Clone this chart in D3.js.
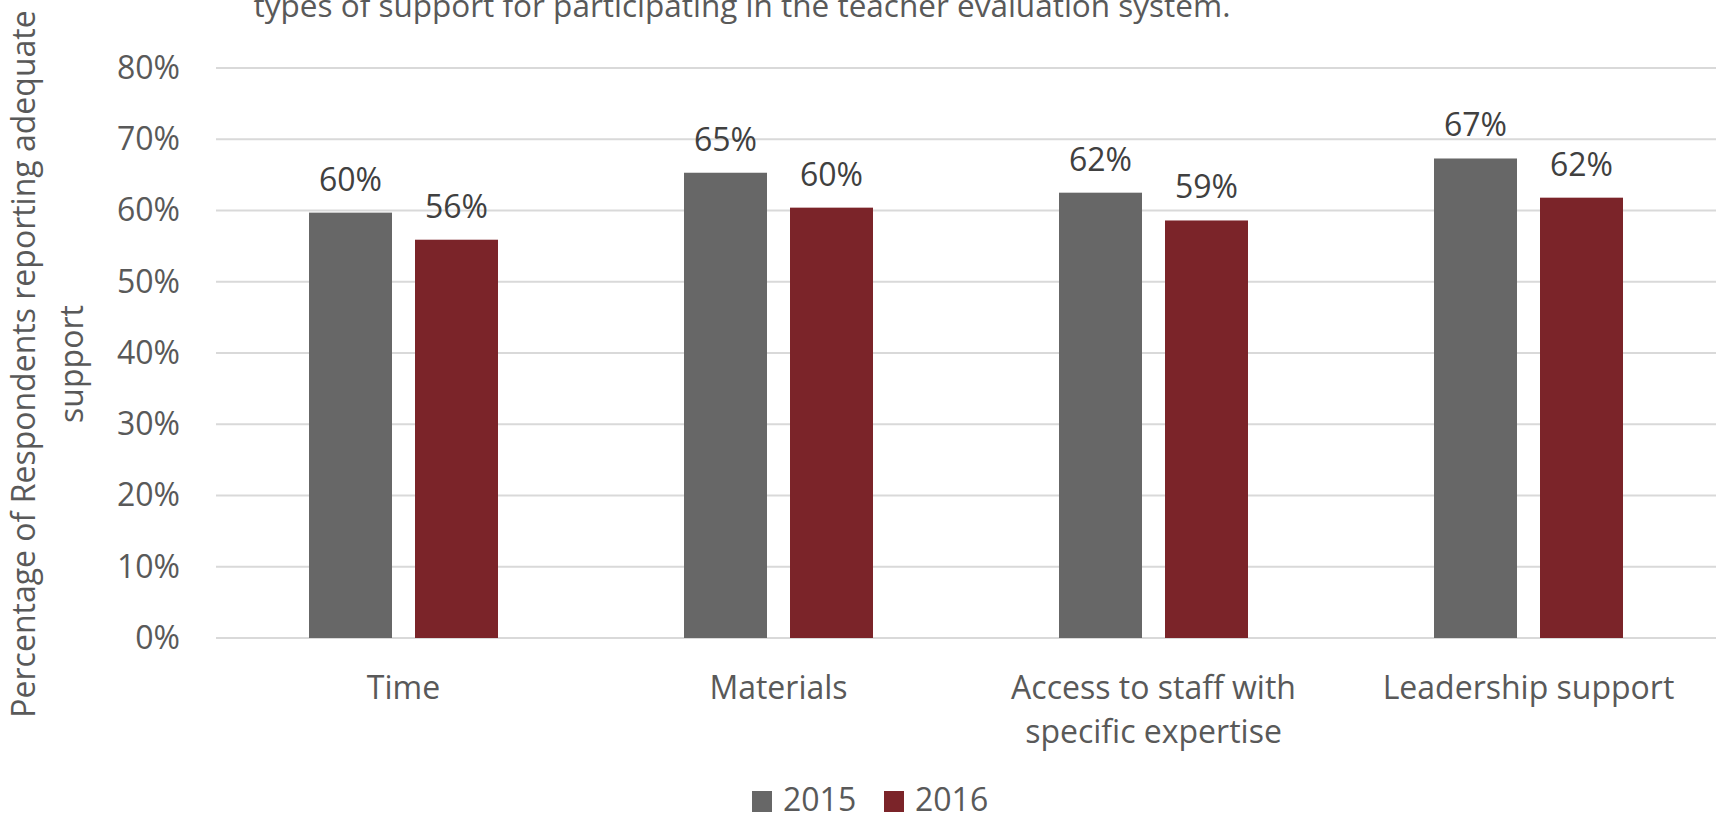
<!DOCTYPE html>
<html>
<head>
<meta charset="utf-8">
<script src="https://cdn.jsdelivr.net/npm/d3@7"></script>
<style>
  html, body { margin: 0; padding: 0; background: #fff; overflow: hidden; }
  svg { display: block; }
  svg text { font-family: "Open Sans", "Noto Sans", sans-serif; }
</style>
</head>
<body>
<svg id="chart" width="1719" height="815"></svg>
<script>
const categories = [["Time"], ["Materials"], ["Access to staff with", "specific expertise"], ["Leadership support"]];
const categoryKeys = ["Time", "Materials", "Access", "Leadership"];
const seriesNames = ["2015", "2016"];
const values2015 = [0.597, 0.653, 0.625, 0.673];
const values2016 = [0.559, 0.604, 0.586, 0.618];
const labels2015 = ["60%", "65%", "62%", "67%"];
const labels2016 = ["56%", "60%", "59%", "62%"];
const yTicks = [0, 0.1, 0.2, 0.3, 0.4, 0.5, 0.6, 0.7, 0.8];
const colors = ["#676767", "#7b2429"];
const titleText = "types of support for participating in the teacher evaluation system.";
const yTitleLines = ["Percentage of Respondents reporting adequate", "support"];

const svg = d3.select("#chart");
const m = {left: 216, right: 3, top: 68, bottom: 177};
const W = 1719, H = 815;
const FS = 32;

const x0 = d3.scaleBand().domain(categoryKeys).range([m.left, W - m.right]).paddingInner(0).paddingOuter(0);
const x1 = d3.scaleBand().domain(seriesNames).range([0, 189]).paddingInner(23/106).paddingOuter(0);
const y = d3.scaleLinear().domain([0, 0.8]).range([H - m.bottom, m.top]);

// gridlines
svg.append("g").selectAll("line").data(yTicks).join("line")
  .attr("x1", m.left).attr("x2", W - m.right)
  .attr("y1", d => y(d)).attr("y2", d => y(d))
  .attr("stroke", "#d9d9d9").attr("stroke-width", 2);

// y axis tick labels
const yAxis = d3.axisLeft(y).tickValues(yTicks).tickFormat(d3.format(".0%")).tickSize(0).tickPadding(0);
const ga = svg.append("g").attr("transform", `translate(${m.left - 36},0)`).call(yAxis);
ga.select(".domain").remove();
ga.selectAll("text").attr("font-size", FS).attr("fill", "#595959").attr("font-family", "Open Sans");

// bars
const groups = svg.append("g").selectAll("g").data(categoryKeys).join("g")
  .attr("transform", d => `translate(${x0(d) + (x0.bandwidth() - 189) / 2},0)`);
groups.each(function(k, i) {
  const g = d3.select(this);
  const vals = [values2015[i], values2016[i]];
  const labs = [labels2015[i], labels2016[i]];
  g.selectAll("rect").data(seriesNames).join("rect")
    .attr("x", s => x1(s)).attr("width", x1.bandwidth())
    .attr("y", (s, j) => y(vals[j])).attr("height", (s, j) => y(0) - y(vals[j]))
    .attr("fill", (s, j) => colors[j]);
  g.selectAll("text").data(seriesNames).join("text")
    .attr("x", s => x1(s) + x1.bandwidth() / 2)
    .attr("y", (s, j) => y(vals[j]) - 22)
    .attr("text-anchor", "middle").attr("font-size", FS).attr("fill", "#404040")
    .text((s, j) => labs[j]);
});

// category labels
svg.append("g").selectAll("text").data(categories).join("text")
  .attr("x", (d, i) => x0(categoryKeys[i]) + x0.bandwidth() / 2)
  .attr("y", 699)
  .attr("text-anchor", "middle").attr("font-size", FS).attr("fill", "#595959")
  .each(function(lines) {
    d3.select(this).selectAll("tspan").data(lines).join("tspan")
      .attr("x", d3.select(this).attr("x")).attr("dy", (l, j) => j === 0 ? 0 : 44).text(l => l);
  });

// title (second line visible)
svg.append("text").attr("x", 742).attr("y", 17).attr("text-anchor", "middle")
  .attr("font-size", 31.5).attr("fill", "#595959").text(titleText);

// y title
const yt = svg.append("text").attr("transform", `translate(0,364) rotate(-90)`)
  .attr("text-anchor", "middle").attr("font-size", FS).attr("fill", "#595959");
yt.selectAll("tspan").data(yTitleLines).join("tspan")
  .attr("x", 0).attr("y", (d, i) => 35 + i * 48).text(d => d);

// legend
const lg = svg.append("g").attr("transform", "translate(752,791)");
const items = lg.selectAll("g").data(seriesNames).join("g").attr("transform", (d, i) => `translate(${i * 132},0)`);
items.append("rect").attr("width", 20).attr("height", 21).attr("fill", (d, i) => colors[i]);
items.append("text").attr("x", 31).attr("y", 20).attr("font-size", FS).attr("fill", "#595959").text(d => d);
</script>
</body>
</html>
